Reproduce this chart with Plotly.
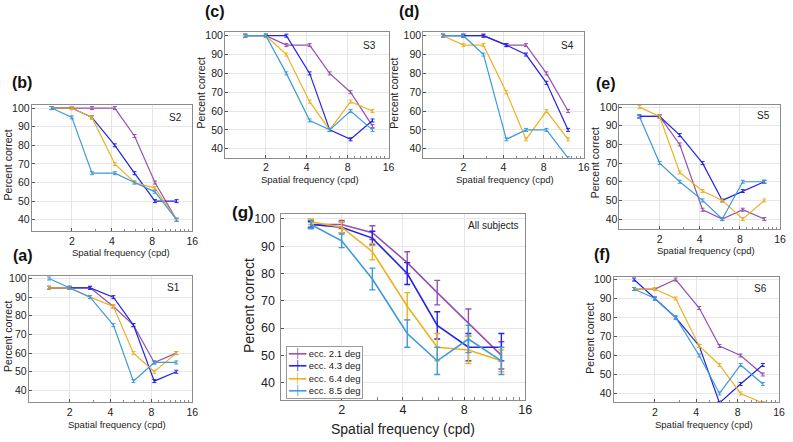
import math
import plotly.graph_objects as go

W, H = 793, 442

freqs = [1.41, 2.0, 2.83, 4.2, 5.9, 8.4, 12.2]
series_names = ["ecc. 2.1 deg", "ecc. 4.3 deg", "ecc. 6.4 deg", "ecc. 8.5 deg"]
colors = ["#9650B0", "#2323E6", "#EDB120", "#3C9BD8"]

# per-subject data (percent correct) -- order: ecc 2.1, 4.3, 6.4, 8.5
s1 = [[95, 95, 95, 85, 75, 55, 60],
      [95, 95, 95, 90, 75, 45, 50],
      [95, 95, 90, 85, 60, 50, 60],
      [100, 95, 90, 75, 45, 55, 55]]
s2 = [[100, 100, 100, 100, 85, 60, 40],
      [100, 100, 95, 80, 65, 50, 50],
      [100, 100, 95, 70, 60, 57, 40],
      [100, 95, 65, 65, 60, 55, 40]]
s3 = [[100, 100, 95, 95, 80, 70, 52],
      [100, 100, 100, 80, 50, 45, 55],
      [100, 100, 90, 65, 50, 65, 60],
      [100, 100, 80, 55, 50, 60, 50]]
s4 = [[100, 100, 100, 95, 95, 80, 60],
      [100, 100, 100, 95, 90, 75, 50],
      [100, 95, 95, 70, 45, 60, 45],
      [100, 100, 90, 45, 50, 50, 35]]
s5 = [[95, 95, 80, 45, 40, 45, 40],
      [95, 95, 85, 70, 50, 55, 60],
      [100, 95, 65, 55, 50, 40, 50],
      [95, 70, 60, 50, 40, 60, 60]]
s6 = [[95, 95, 100, 85, 65, 60, 50],
      [100, 90, 80, 65, 35, 45, 55],
      [95, 95, 90, 65, 55, 40, 35],
      [95, 90, 80, 60, 40, 55, 45]]

# all subjects mean and error
g_mean = [[98, 98, 95, 84, 73, 62, 50],
          [98, 97, 93, 80, 61, 53, 53],
          [99, 97, 88, 68, 53, 52, 48],
          [98, 92, 78, 58, 48, 56, 48]]
g_err = [[1.5, 1.5, 2.5, 4, 4.5, 5, 5],
         [1, 2, 2.5, 4, 5, 5, 5],
         [1, 2, 3, 5, 5, 5, 4],
         [1.5, 2.5, 4, 5, 5, 5, 5]]

xticks = [2, 4, 8, 16]
yticks = [40, 50, 60, 70, 80, 90, 100]
minor_x = [3, 5, 6, 7, 9, 10, 11, 12, 13, 14, 15]

# panel layout in pixels
panels = {
    "a": dict(data=s1, box=(29, 194, 274, 402), xr=(1, 16), yr=(33.6, 101.6), tag="S1",
              tagpos=(175, 286), lab=(23, 254), xt=(118, 424), yt=(8, 335)),
    "b": dict(data=s2, box=(32, 194, 102, 229), xr=(1, 16), yr=(34, 101.6), tag="S2",
              tagpos=(177, 115), lab=(22, 79), xt=(122, 251), yt=(8, 162)),
    "c": dict(data=s3, box=(227, 392, 28, 155), xr=(1, 16), yr=(35.3, 102.1), tag="S3",
              tagpos=(373, 42), lab=(217, 8), xt=(313, 177), yt=(203, 90)),
    "d": dict(data=s4, box=(427, 589, 28, 155), xr=(1, 16), yr=(35.3, 102.1), tag="S4",
              tagpos=(573, 42), lab=(413, 8), xt=(510, 177), yt=(398, 90)),
    "e": dict(data=s5, box=(625, 787, 102, 227), xr=(1, 16), yr=(34.7, 101.1), tag="S5",
              tagpos=(770, 113), lab=(611, 80), xt=(712, 249), yt=(600, 160)),
    "f": dict(data=s6, box=(619, 786, 275, 402), xr=(1, 16), yr=(35.3, 101.6), tag="S6",
              tagpos=(767, 287), lab=(607, 253), xt=(710, 424), yt=(595, 337)),
}

fig = go.Figure()
font_family = "Liberation Sans, Arial, sans-serif"
annotations = []


def px_x(v):
    return v / W


def px_y(v):
    return 1 - v / H


def note(text, x, y, size, angle=0, color="#222"):
    return dict(text=text, x=px_x(x), y=px_y(y), xref="paper", yref="paper",
                xanchor="center", yanchor="middle", showarrow=False, textangle=angle,
                font=dict(size=size, color=color, family=font_family))


axis_common = dict(
    type="log", showline=True, linecolor="#8c8c8c", linewidth=1, mirror=True,
    showgrid=True, gridcolor="#e6e6e6", gridwidth=1, zeroline=False,
    ticks="inside", ticklen=3, tickcolor="#555", fixedrange=True,
    ticklabeloverflow="allow",
)
yaxis_common = dict(
    showline=True, linecolor="#8c8c8c", linewidth=1, mirror=True,
    showgrid=True, gridcolor="#e6e6e6", gridwidth=1, zeroline=False,
    ticks="inside", ticklen=3, tickcolor="#555", fixedrange=True,
    ticklabeloverflow="allow",
)

layout_axes = {}
idx = 1
for key, p in panels.items():
    x0, x1, y0, y1 = p["box"]
    xa = "x" if idx == 1 else f"x{idx}"
    ya = "y" if idx == 1 else f"y{idx}"
    xname = "xaxis" if idx == 1 else f"xaxis{idx}"
    yname = "yaxis" if idx == 1 else f"yaxis{idx}"
    layout_axes[xname] = dict(
        axis_common, domain=[px_x(x0), px_x(x1)], anchor=ya,
        range=[math.log10(p["xr"][0]), math.log10(p["xr"][1])],
        tickmode="array", tickvals=xticks, ticktext=[str(t) for t in xticks],
        tickfont=dict(size=10.5, color="#222", family=font_family),
        ticklabelstandoff=0,
        minor=dict(tickmode="array", tickvals=minor_x, ticks="inside", ticklen=2,
                   tickcolor="#888", showgrid=False),
    )
    layout_axes[yname] = dict(
        yaxis_common, domain=[px_y(y1), px_y(y0)], anchor=xa,
        range=list(p["yr"]), tickmode="array", tickvals=yticks,
        tickfont=dict(size=10.5, color="#222", family=font_family),
        ticklabelstandoff=-1,
    )
    for s in range(4):
        fig.add_trace(go.Scatter(
            x=freqs, y=p["data"][s], mode="lines", xaxis=xa, yaxis=ya,
            line=dict(color=colors[s], width=1.2), showlegend=False,
            error_y=dict(type="constant", value=0.8, color=colors[s], thickness=1, width=2),
            name=series_names[s],
        ))
    annotations.append(note(p["tag"], *p["tagpos"], 10))
    annotations.append(note(f"<b>({key})</b>", *p["lab"], 16, color="#111"))
    annotations.append(note("Spatial frequency (cpd)", *p["xt"], 9.5))
    annotations.append(note("Percent correct", *p["yt"], 10.5, angle=-90))
    idx += 1

# panel g
xa, ya = f"x{idx}", f"y{idx}"
layout_axes[f"xaxis{idx}"] = dict(
    axis_common, domain=[px_x(283), px_x(530)], anchor=ya,
    range=[0, math.log10(16)], tickmode="array", tickvals=xticks,
    ticktext=[str(t) for t in xticks],
    tickfont=dict(size=12.5, color="#222", family=font_family),
    ticklabelstandoff=-2,
    minor=dict(tickmode="array", tickvals=minor_x, ticks="inside", ticklen=3,
               tickcolor="#888", showgrid=False),
)
layout_axes[f"yaxis{idx}"] = dict(
    yaxis_common, domain=[px_y(400), px_y(212)], anchor=xa,
    range=[33.5, 101.8], tickmode="array", tickvals=yticks,
    tickfont=dict(size=12.5, color="#222", family=font_family),
    ticklabelstandoff=2,
)
for s in range(4):
    fig.add_trace(go.Scatter(
        x=freqs, y=g_mean[s], mode="lines", xaxis=xa, yaxis=ya,
        line=dict(color=colors[s], width=1.6), name=series_names[s], showlegend=False,
        error_y=dict(type="data", array=g_err[s], color=colors[s], thickness=1.4, width=3),
    ))

# legend for panel g (text-based key)
legend_lines = []
for s in range(4):
    legend_lines.append(
        f'<span style="color:{colors[s]};font-family:DejaVu Sans">━┿━</span> {series_names[s]}'
    )
annotations.append(dict(
    text="<br>".join(legend_lines), x=px_x(289), y=px_y(345), xref="paper", yref="paper",
    xanchor="left", yanchor="top", align="left", showarrow=False,
    bgcolor="white", bordercolor="#9a9a9a", borderwidth=1, borderpad=1,
    font=dict(size=9.5, color="#222", family=font_family),
))

annotations += [
    note("All subjects", 498, 224, 10),
    note("<b>(g)</b>", 245, 210, 17, color="#111"),
    note("Spatial frequency (cpd)", 407, 429, 14),
    note("Percent correct", 251, 304, 14, angle=-90),
]

fig.update_layout(
    width=W, height=H, margin=dict(l=0, r=0, t=0, b=0),
    paper_bgcolor="white", plot_bgcolor="white",
    font=dict(family=font_family, color="#222"),
    annotations=annotations,
    showlegend=False,
    **layout_axes,
)

fig.write_html(
    "out.html",
    config={"displayModeBar": False, "staticPlot": True},
    post_script="document.body.style.margin='0';document.body.style.padding='0';"
                "document.body.style.overflow='hidden';",
)
